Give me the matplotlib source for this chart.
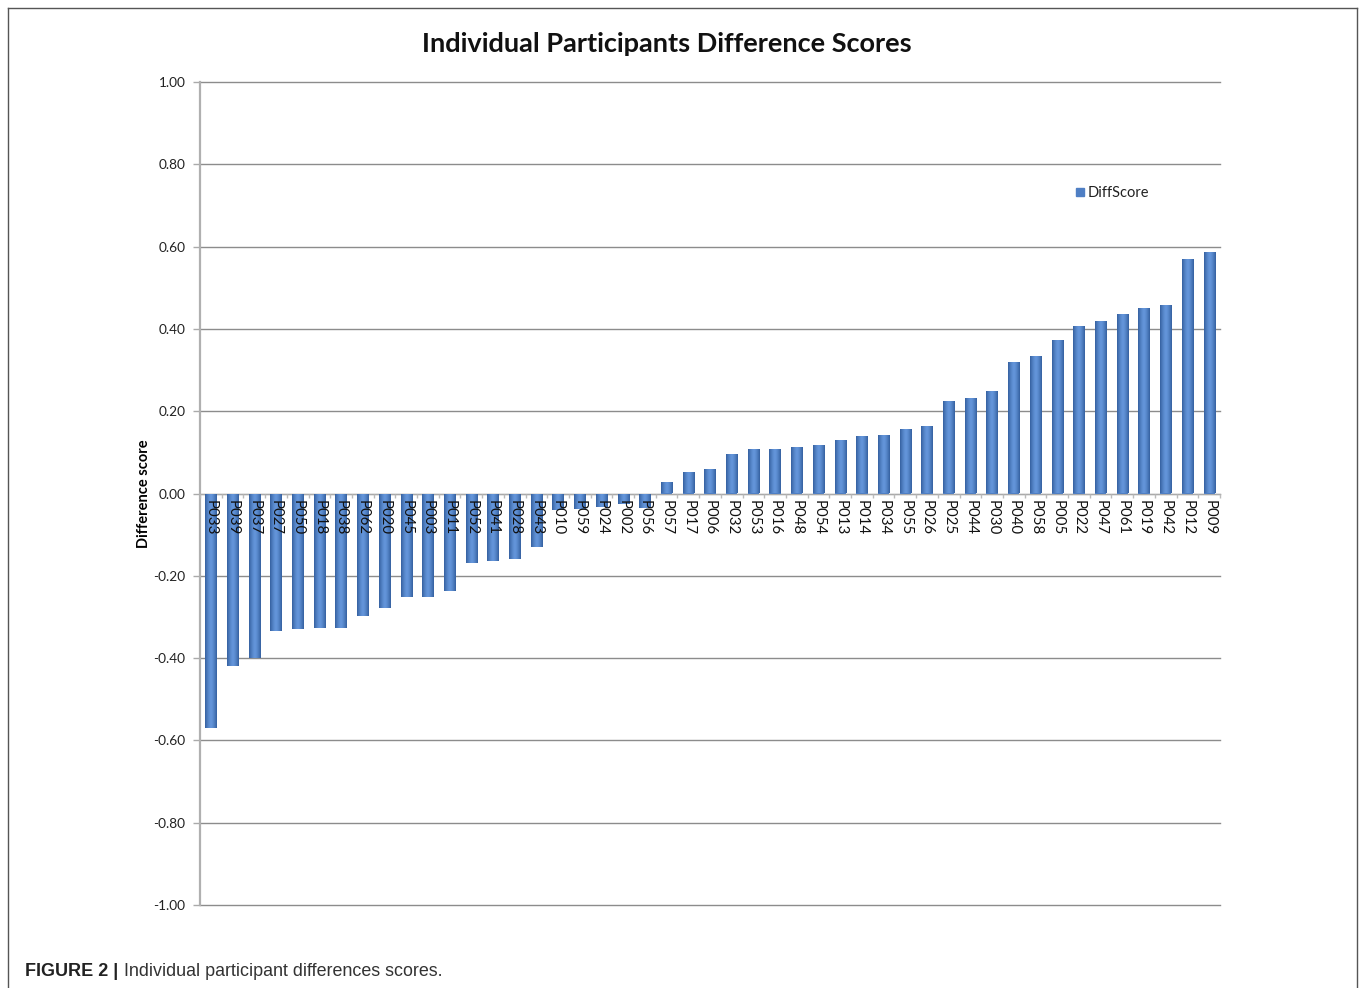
import matplotlib
matplotlib.use("Agg")
import matplotlib.pyplot as plt
import numpy as np
from matplotlib.lines import Line2D
from matplotlib.patches import Rectangle

participants = [
    "P033", "P039", "P037", "P027", "P050", "P018", "P038", "P062", "P020",
    "P045", "P003", "P011", "P052", "P041", "P028", "P043", "P010", "P059",
    "P024", "P002", "P056", "P057", "P017", "P006", "P032", "P053", "P016",
    "P048", "P054", "P013", "P014", "P034", "P055", "P026", "P025", "P044",
    "P030", "P040", "P058", "P005", "P022", "P047", "P061", "P019", "P042",
    "P012", "P009",
]
diff_scores = [
    -0.57, -0.42, -0.40, -0.335, -0.33, -0.327, -0.327, -0.297, -0.278,
    -0.252, -0.251, -0.238, -0.168, -0.164, -0.160, -0.131, -0.040, -0.038,
    -0.034, -0.025, -0.035, 0.027, 0.053, 0.060, 0.095, 0.109, 0.109,
    0.114, 0.119, 0.129, 0.139, 0.141, 0.156, 0.163, 0.226, 0.233,
    0.248, 0.320, 0.333, 0.374, 0.406, 0.418, 0.435, 0.450, 0.459,
    0.569, 0.588,
]
y_ticks = [1.0, 0.8, 0.6, 0.4, 0.2, 0.0, -0.2, -0.4, -0.6, -0.8, -1.0]

W, H = 1360, 988
fig = plt.figure(figsize=(W / 100, H / 100), dpi=100)
fig.patch.set_facecolor("white")

# outer frame of the figure panel
frame_kw = dict(color="#555555", lw=1.0, transform=fig.transFigure)
fig.add_artist(Line2D([8 / W, 8 / W], [0, 1 - 8 / H], **frame_kw))
fig.add_artist(Line2D([8 / W, 1357 / W], [1 - 8 / H, 1 - 8 / H], **frame_kw))
fig.add_artist(Line2D([1357 / W, 1357 / W], [0, 1 - 8 / H], **frame_kw))

ax = fig.add_axes([200 / W, 1 - 905 / H, 1020 / W, 823 / H])
x = np.arange(len(participants))

bar_color = "#4f7fc4"
bars = ax.bar(x, diff_scores, width=0.52, color=bar_color, zorder=3)

# horizontal shading inside each bar
grad = np.linspace(0, 1, 64)
shade = 1 - 0.55 * (2 * np.abs(grad - 0.5)) ** 1.5
cmap = matplotlib.colors.LinearSegmentedColormap.from_list(
    "barshade", ["#34609f", "#6495da"])
for b in bars:
    x0, w = b.get_x(), b.get_width()
    y0, h = b.get_y(), b.get_height()
    im = ax.imshow(shade[np.newaxis, :], cmap=cmap, vmin=0.45, vmax=1.0,
                   extent=[x0, x0 + w, min(y0, y0 + h), max(y0, y0 + h)],
                   aspect="auto", zorder=3.5, interpolation="bilinear")
    im.set_clip_path(b)

ax.set_xlim(-0.5, len(participants) - 0.5)
ax.set_ylim(-1.0, 1.0)

ax.set_yticks(y_ticks)
ax.set_yticklabels([f"{v:.2f}" for v in y_ticks], fontsize=9.8,
                   family="Lato", color="#222222")
ax.yaxis.grid(True, color="#8c8c8c", lw=1.0, zorder=1)
for gl in ax.yaxis.get_gridlines():
    gl.set_clip_on(False)
ax.tick_params(axis="y", length=5, width=1.0, color="#aaaaaa", pad=5.5)

ax.spines["bottom"].set_position(("data", 0))
ax.spines["bottom"].set_color("#aaaaaa")
ax.spines["bottom"].set_zorder(2)
ax.spines["left"].set_color("#b0b0b0")
ax.spines["left"].set_linewidth(1.6)
ax.spines["top"].set_visible(False)
ax.spines["right"].set_visible(False)

ax.set_xticks(x)
ax.set_xticklabels(participants, rotation=270, fontsize=10.8, family="Lato",
                   color="#111111")
ax.tick_params(axis="x", which="major", length=0, pad=5)
ax.set_xticks(np.arange(len(participants) + 1) - 0.5, minor=True)
ax.tick_params(axis="x", which="minor", length=3, width=1.0, color="#bbbbbb")
for lbl in ax.get_xticklabels():
    lbl.set_zorder(5)
ax.xaxis.set_zorder(5)

ax.set_ylabel("Difference score", fontsize=10.5, family="Lato",
              fontweight="bold", labelpad=2)

fig.text(667 / W, 1 - 44 / H, "Individual Participants Difference Scores",
         ha="center", va="center", fontsize=19.5, family="Lato",
         fontweight="bold", color="#111111")

# legend
fig.add_artist(Rectangle((1076 / W, 1 - 196 / H), 8 / W, 8 / H,
                         transform=fig.transFigure, color=bar_color))
fig.text(1088 / W, 1 - 193 / H, "DiffScore", ha="left", va="center",
         fontsize=10.5, family="Lato", color="#222222")

# caption
fig.text(25 / W, 1 - 971 / H, "FIGURE 2 |", ha="left", va="center",
         fontsize=13, family="Liberation Sans", fontweight="bold",
         color="#222222")
fig.text(124 / W, 1 - 971 / H, "Individual participant differences scores.",
         ha="left", va="center", fontsize=12.9, family="Liberation Sans",
         color="#333333")

fig.savefig("out.png", dpi=100)
